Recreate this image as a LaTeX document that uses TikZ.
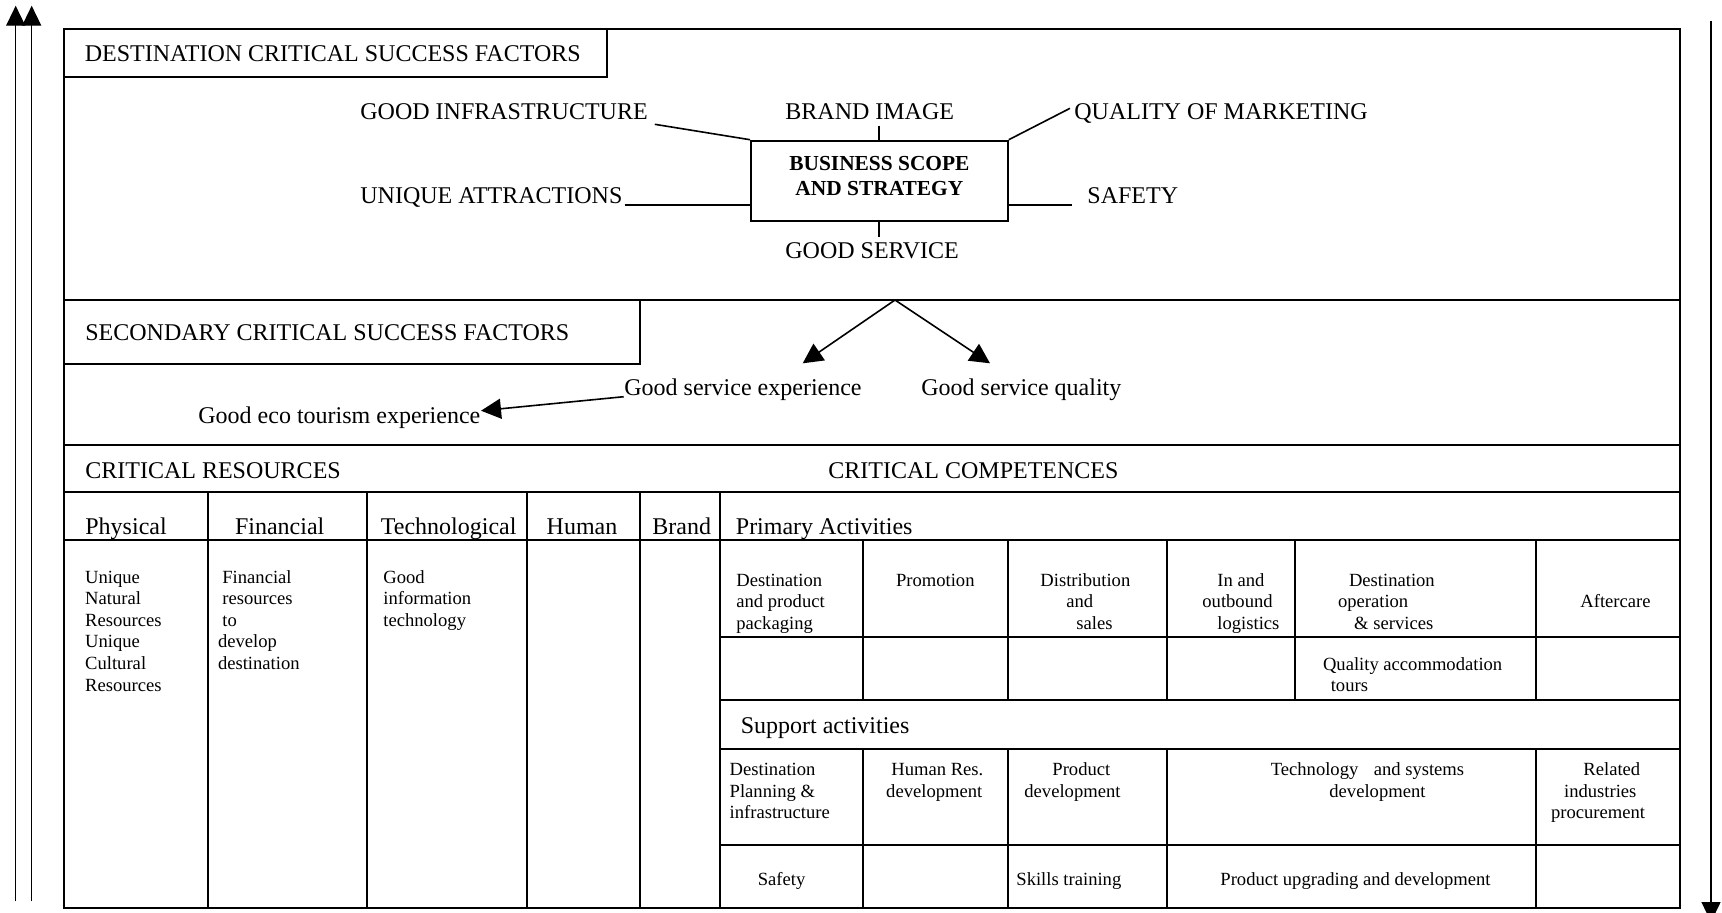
\documentclass[tikz,border=0pt]{standalone}
\usepackage{fontspec}
\setmainfont{Liberation Serif}
\usetikzlibrary{arrows.meta}

\begin{document}
\begin{tikzpicture}[x=0.5pt,y=-0.5pt,
  rule/.style={line width=1pt},
  conn/.style={line width=0.8pt},
  tip/.style={-{Triangle[length=10pt,width=10pt]}, line width=0.8pt},
  flow/.style={-{Triangle[length=10pt,width=9.5pt]}, line width=0.7pt},
  big/.style={font=\fontsize{12}{14}\selectfont, inner sep=0pt, anchor=base west},
  small/.style={font=\fontsize{9.3}{11}\selectfont, inner sep=0pt, anchor=base west},
  corefont/.style={font=\fontsize{10.7}{12}\selectfont\bfseries, inner sep=0pt, anchor=base},
  core/.style={draw, line width=1pt, minimum width=128.4pt, minimum height=40pt, inner sep=0pt}]

\useasboundingbox (0,0) rectangle (1722,912);
\clip (0,0) rectangle (1722,912);

% ---------- outer flow arrows ----------
\coordinate (upA0) at (15.7,901);  \coordinate (upA1) at (15.7,5.7);
\coordinate (upB0) at (31.7,901);  \coordinate (upB1) at (31.7,5.7);
\coordinate (dn0)  at (1711,20.7); \coordinate (dn1)  at (1711,922);
\draw[flow] (upA0) -- (upA1);
\draw[flow] (upB0) -- (upB1);
\draw[flow] (dn0) -- (dn1);

% ---------- frame and grid ----------
\draw[rule] (64,28.7) rectangle (1680,908.3);
\draw[rule] (64,28.7) rectangle (607,77);
\draw[rule] (64,300) -- (1680,300);
\draw[rule] (64,300) rectangle (640,364);
\draw[rule] (64,444.5) -- (1680,444.5);
\draw[rule] (64,492) -- (1680,492);
\draw[rule] (64,540) -- (1680,540);
\foreach \x in {207.5,367,527.4,640,719.5}
  \draw[rule] (\x,492) -- (\x,908.3);
\foreach \x in {863,1007.7,1167.4,1295.2,1535.7}
  \draw[rule] (\x,540) -- (\x,700);
\foreach \y in {636.7,700,749,845}
  \draw[rule] (719.5,\y) -- (1680,\y);
\foreach \x in {863,1007.7,1167.4,1535.7}
  \draw[rule] (\x,749) -- (\x,908.3);

% ---------- destination critical success factors ----------
\node[big] (dcsf) at (84.5,61.5) {DESTINATION CRITICAL SUCCESS FACTORS};
\node[core] (bss) at (879.4,180.7) {};
\node[corefont] (bssA) at (879.4,170.7) {BUSINESS SCOPE};
\node[corefont] (bssB) at (879.4,195) {AND STRATEGY};

\node[big] (gi) at (360,119.5) {GOOD INFRASTRUCTURE};
\node[big] (bi) at (785,119.5) {BRAND IMAGE};
\node[big] (qm) at (1074,119.5) {QUALITY OF MARKETING};
\node[big] (ua) at (360,203) {UNIQUE ATTRACTIONS};
\node[big] (sf) at (1087,203) {SAFETY};
\node[big] (gs) at (785,258) {GOOD SERVICE};

\coordinate (giE) at (654.8,124.3);
\coordinate (biE) at (879,125.7);
\coordinate (qmE) at (1070,108.3);
\coordinate (uaE) at (624.7,204.7);
\coordinate (sfE) at (1072,204.7);
\coordinate (gsE) at (879,236.7);
\draw[conn] (giE) -- (bss.north west);
\draw[conn] (biE) -- (biE |- bss.north);
\draw[conn] (bss.north east) -- (qmE);
\draw[conn] (uaE) -- (uaE -| bss.west);
\draw[conn] (sfE -| bss.east) -- (sfE);
\draw[conn] (gsE |- bss.south) -- (gsE);

% ---------- secondary critical success factors ----------
\node[big] (scsf) at (85,340) {SECONDARY CRITICAL SUCCESS FACTORS};
\node[big] (gse) at (624,395) {Good service experience};
\node[big] (gsq) at (921,395) {Good service quality};
\node[big] (get) at (198,423.7) {Good eco tourism experience};
\coordinate (apex) at (895,300);
\coordinate (gseT) at (802.7,363.3);
\coordinate (gsqT) at (990,363.3);
\coordinate (gseS) at (623.7,396.7);
\coordinate (getT) at (481,410.7);
\draw[tip] (apex) -- (gseT);
\draw[tip] (apex) -- (gsqT);
\draw[tip] (gseS) -- (getT);

% ---------- resources and competences ----------
\node[big] (cres) at (85,478.7) {CRITICAL RESOURCES};
\node[big] (ccomp) at (828,478.7) {CRITICAL COMPETENCES};
\node[big] (hPhys) at (85,534.2) {Physical};
\node[big] (hFin) at (234.6,534.2) {Financial};
\node[big] (hTech) at (380.5,534.2) {Technological};
\node[big] (hHum) at (546.3,534.2) {Human};
\node[big] (hBrand) at (652,534.2) {Brand};
\node[big] (hPrim) at (735.5,534.2) {Primary Activities};
\node[big] (hSupp) at (740.4,733.7) {Support activities};

% physical
\node[small] (ph1) at (84.8,583) {Unique};
\node[small] (ph2) at (84.8,604.6) {Natural};
\node[small] (ph3) at (84.8,626.2) {Resources};
\node[small] (ph4) at (84.8,647.8) {Unique};
\node[small] (ph5) at (84.8,669.4) {Cultural};
\node[small] (ph6) at (84.8,691) {Resources};
% financial
\node[small] (fi1) at (222,583) {Financial};
\node[small] (fi2) at (222,604.6) {resources};
\node[small] (fi3) at (222,626.2) {to};
\node[small] (fi4) at (217.6,647.8) {develop};
\node[small] (fi5) at (217.6,669.4) {destination};
% technological
\node[small] (te1) at (383,583) {Good};
\node[small] (te2) at (383,604.6) {information};
\node[small] (te3) at (383,626.2) {technology};

% primary activities
\node[small] (pa1) at (736,586) {Destination};
\node[small] (pa2) at (736,607.5) {and product};
\node[small] (pa3) at (736,629) {packaging};
\node[small] (pb1) at (895.6,586) {Promotion};
\node[small] (pc1) at (1040,586) {Distribution};
\node[small] (pc2) at (1066,607.5) {and};
\node[small] (pc3) at (1076,629) {sales};
\node[small] (pd1) at (1217,586) {In and};
\node[small] (pd2) at (1202,607.5) {outbound};
\node[small] (pd3) at (1217,629) {logistics};
\node[small] (pe1) at (1348.6,586) {Destination};
\node[small] (pe2) at (1337.6,607.5) {operation};
\node[small] (pe3) at (1353.8,629) {\& services};
\node[small] (pf1) at (1580,607.5) {Aftercare};
\node[small] (pq1) at (1322.6,670) {Quality accommodation};
\node[small] (pq2) at (1330.4,691) {tours};

% support activities
\node[small] (sa1) at (729.3,775.5) {Destination};
\node[small] (sa2) at (729.3,797) {Planning \&};
\node[small] (sa3) at (729.3,818.5) {infrastructure};
\node[small] (sb1) at (891,775.5) {Human Res.};
\node[small] (sb2) at (885.8,797) {development};
\node[small] (sc1) at (1052,775.5) {Product};
\node[small] (sc2) at (1024,797) {development};
\node[small] (sd1) at (1270.4,775.5) {Technology\hspace{7.7pt}and systems};
\node[small] (sd2) at (1329,797) {development};
\node[small] (se1) at (1583,775.5) {Related};
\node[small] (se2) at (1563.7,797) {industries};
\node[small] (se3) at (1550.7,818.5) {procurement};
\node[small] (sr1) at (757.4,885) {Safety};
\node[small] (sr2) at (1016,885) {Skills training};
\node[small] (sr3) at (1220,885) {Product upgrading and development};

\end{tikzpicture}
\end{document}
